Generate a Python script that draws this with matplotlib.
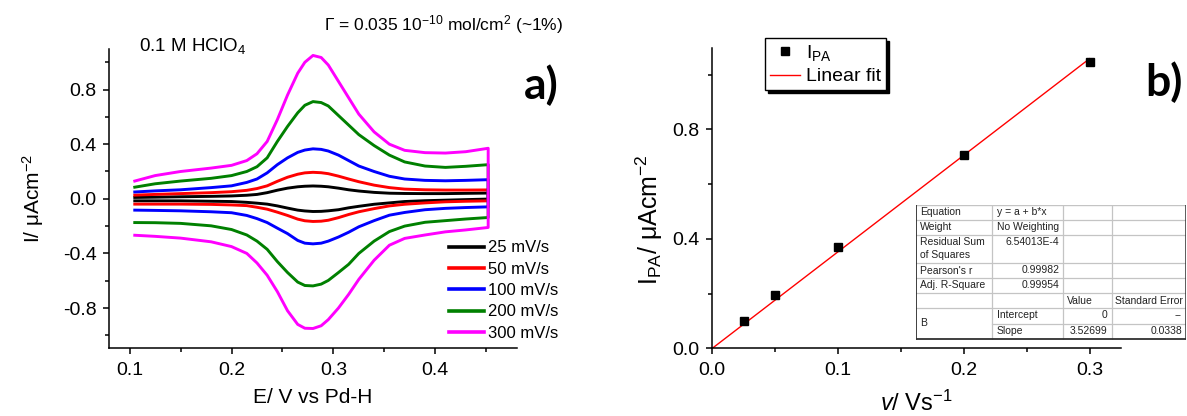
import numpy as np
import matplotlib
matplotlib.use('Agg')
import matplotlib.pyplot as plt
from matplotlib.ticker import MultipleLocator, FormatStrFormatter

plt.rcParams['font.family'] = ['Liberation Sans', 'DejaVu Sans']
plt.rcParams['mathtext.fontset'] = 'custom'
plt.rcParams['mathtext.rm'] = 'Liberation Sans'
plt.rcParams['mathtext.it'] = 'Liberation Sans:italic'
plt.rcParams['mathtext.bf'] = 'Liberation Sans:bold'
plt.rcParams['axes.unicode_minus'] = False

# ---- panel a: cyclic voltammograms ----
E = np.array([0.105, 0.125, 0.15, 0.18, 0.2, 0.215, 0.225, 0.235, 0.245, 0.255, 0.265, 0.272, 0.28,
              0.288, 0.295, 0.305, 0.315, 0.325, 0.34, 0.355, 0.37, 0.39, 0.41, 0.43, 0.452])

scan_labels = ['25 mV/s', '50 mV/s', '100 mV/s', '200 mV/s', '300 mV/s']
scan_colors = ['black', '#ff0000', '#0000ff', '#008000', '#ff00ff']

# anodic (forward) branch
i_an_25 = [0.010, 0.012, 0.015, 0.018, 0.021, 0.026, 0.032, 0.045, 0.063, 0.078, 0.088, 0.092, 0.094,
           0.092, 0.088, 0.078, 0.066, 0.057, 0.047, 0.041, 0.039, 0.038, 0.038, 0.040, 0.042]
i_an_50 = [0.027, 0.032, 0.038, 0.045, 0.052, 0.062, 0.075, 0.095, 0.128, 0.158, 0.180, 0.190, 0.194,
           0.191, 0.184, 0.166, 0.145, 0.125, 0.100, 0.082, 0.071, 0.066, 0.064, 0.064, 0.065]
i_an_100 = [0.050, 0.058, 0.066, 0.082, 0.095, 0.120, 0.145, 0.190, 0.250, 0.300, 0.340, 0.357, 0.366,
            0.362, 0.350, 0.320, 0.280, 0.240, 0.200, 0.165, 0.145, 0.135, 0.132, 0.135, 0.140]
i_an_200 = [0.085, 0.110, 0.130, 0.150, 0.170, 0.200, 0.235, 0.300, 0.420, 0.530, 0.630, 0.685, 0.712,
            0.705, 0.680, 0.610, 0.540, 0.470, 0.390, 0.320, 0.270, 0.240, 0.230, 0.238, 0.250]
i_an_300 = [0.130, 0.170, 0.200, 0.225, 0.245, 0.280, 0.330, 0.420, 0.580, 0.760, 0.920, 1.000, 1.050,
            1.035, 0.980, 0.860, 0.740, 0.620, 0.490, 0.400, 0.355, 0.338, 0.335, 0.345, 0.370]

# cathodic (reverse) branch, same potentials
i_ca_25 = [-0.015, -0.015, -0.015, -0.018, -0.020, -0.026, -0.032, -0.039, -0.052, -0.068, -0.083, -0.089, -0.093,
           -0.092, -0.088, -0.080, -0.066, -0.055, -0.040, -0.030, -0.020, -0.014, -0.010, -0.006, -0.002]
i_ca_50 = [-0.039, -0.039, -0.039, -0.041, -0.045, -0.050, -0.062, -0.076, -0.098, -0.122, -0.149, -0.161, -0.166,
           -0.164, -0.157, -0.138, -0.115, -0.095, -0.072, -0.052, -0.040, -0.030, -0.022, -0.018, -0.015]
i_ca_100 = [-0.083, -0.085, -0.088, -0.095, -0.102, -0.122, -0.145, -0.174, -0.215, -0.255, -0.305, -0.325, -0.330,
            -0.325, -0.310, -0.280, -0.245, -0.205, -0.160, -0.120, -0.100, -0.080, -0.070, -0.064, -0.059]
i_ca_200 = [-0.174, -0.175, -0.180, -0.198, -0.225, -0.265, -0.310, -0.370, -0.460, -0.540, -0.610, -0.635, -0.638,
            -0.625, -0.598, -0.540, -0.480, -0.400, -0.310, -0.240, -0.200, -0.172, -0.160, -0.148, -0.137]
i_ca_300 = [-0.267, -0.275, -0.288, -0.315, -0.350, -0.400, -0.470, -0.560, -0.680, -0.820, -0.920, -0.948, -0.950,
            -0.930, -0.885, -0.800, -0.700, -0.590, -0.450, -0.340, -0.290, -0.265, -0.242, -0.228, -0.210]

anodic = [i_an_25, i_an_50, i_an_100, i_an_200, i_an_300]
cathodic = [i_ca_25, i_ca_50, i_ca_100, i_ca_200, i_ca_300]

# ---- panel b: peak current vs scan rate ----
scan_rate = [0.025, 0.05, 0.1, 0.2, 0.3]
i_pa = [0.100, 0.195, 0.370, 0.706, 1.047]
fit_x = [0.0, 0.3]
fit_slope = 3.52699

tbl_col1 = ['Equation', 'Weight', 'Residual Sum\nof Squares', "Pearson's r", 'Adj. R-Square', '', 'B']
tbl_col2 = ['y = a + b*x', 'No Weighting', '6.54013E-4', '0.99982', '0.99954', '', 'Intercept', 'Slope']
tbl_col3 = ['Value', '0', '3.52699']
tbl_col4 = ['Standard Error', '--', '0.0338']

W, H = 1187, 416
fig = plt.figure(figsize=(W / 100, H / 100), dpi=100)

def style_axes(ax):
    for s in ['top', 'right']:
        ax.spines[s].set_visible(False)
    for s in ['left', 'bottom']:
        ax.spines[s].set_linewidth(1.1)
    ax.tick_params(which='major', direction='out', length=4, width=1.1, labelsize=14, pad=5)
    ax.tick_params(which='minor', direction='out', length=2.7, width=1.1)
    ax.tick_params(axis='x', which='major', pad=6)

axa = fig.add_axes([109.3 / W, 1 - 348.3 / H, 407.4 / W, 299 / H])
style_axes(axa)
for ian, ica, col, lab in zip(anodic, cathodic, scan_colors, scan_labels):
    axa.plot(np.concatenate([E, E[::-1]]), np.concatenate([ian, ica[::-1]]),
             color=col, lw=2.1, label=lab, solid_joinstyle='round')
axa.set_xlim(0.08, 0.48)
axa.set_ylim(-1.095, 1.095)
axa.set_xticks([0.1, 0.2, 0.3, 0.4])
axa.set_yticks([-0.8, -0.4, 0.0, 0.4, 0.8])
axa.xaxis.set_major_formatter(FormatStrFormatter('%.1f'))
axa.yaxis.set_major_formatter(FormatStrFormatter('%.1f'))
axa.xaxis.set_minor_locator(MultipleLocator(0.05))
axa.yaxis.set_minor_locator(MultipleLocator(0.2))
axa.set_xlabel('E/ V vs Pd-H', fontsize=15, labelpad=6)
axa.set_ylabel('I/ μAcm$^{-2}$', fontsize=15, labelpad=12)
leg = axa.legend(loc='center left', bbox_to_anchor=(449 / W, 1 - 290.6 / H),
                 bbox_transform=fig.transFigure, frameon=False, fontsize=12,
                 handlelength=2.1, handletextpad=0.25, labelspacing=0.38,
                 borderpad=0, borderaxespad=0)
for l in leg.get_lines():
    l.set_linewidth(2.6)

fig.text(139 / W, 1 - 51 / H, '0.1 M HClO$_4$', fontsize=13.5, ha='left', va='baseline')
fig.text(563 / W, 1 - 30 / H, 'Γ = 0.035 10$^{-10}$ mol/cm$^2$ (~1%)', fontsize=12.5,
         ha='right', va='baseline')
fig.text(541 / W, 1 - 85 / H, 'a)', fontsize=32, fontweight='bold', family=['Lato', 'DejaVu Sans'],
         ha='center', va='center')

# ---- panel b ----
axb = fig.add_axes([712.3 / W, 1 - 348.3 / H, 408.7 / W, 300 / H])
style_axes(axb)
axb.plot(fit_x, [fit_slope * x for x in fit_x], color='#ff0000', lw=1.0, label='Linear fit', zorder=2)
axb.plot(scan_rate, i_pa, 's', color='black', ms=5.5, label='I$_{\\mathrm{PA}}$', zorder=3)
axb.set_xlim(0, 0.325)
axb.set_ylim(0, 1.096)
axb.set_xticks([0.0, 0.1, 0.2, 0.3])
axb.set_yticks([0.0, 0.4, 0.8])
axb.xaxis.set_major_formatter(FormatStrFormatter('%.1f'))
axb.yaxis.set_major_formatter(FormatStrFormatter('%.1f'))
axb.xaxis.set_minor_locator(MultipleLocator(0.05))
axb.yaxis.set_minor_locator(MultipleLocator(0.2))
axb.set_xlabel('$\\mathit{v}$/ Vs$^{-1}$', fontsize=17, labelpad=8)
axb.set_ylabel('I$_{\\mathrm{PA}}$/ μAcm$^{-2}$', fontsize=18, labelpad=6)
axb.yaxis.set_label_coords(-0.115, 0.43)

h, l = axb.get_legend_handles_labels()
legb = axb.legend([h[1], h[0]], [l[1], l[0]], loc='upper left',
                  bbox_to_anchor=(765 / W, 1 - 38 / H), bbox_transform=fig.transFigure,
                  fontsize=14, handlelength=1.55, handletextpad=0.3, labelspacing=0.25,
                  borderpad=0.25, borderaxespad=0, fancybox=False, framealpha=1,
                  edgecolor='black', shadow={'color': 'black', 'alpha': 1})
legb.get_frame().set_linewidth(1.0)

fig.text(1164 / W, 1 - 82 / H, 'b)', fontsize=32, fontweight='bold', family=['Lato', 'DejaVu Sans'],
         ha='center', va='center')

# ---- fit results table ----
tab = fig.add_axes([916 / W, 1 - 340 / H, 270 / W, 135 / H])
tab.set_xlim(0, 270)
tab.set_ylim(135, 0)
tab.axis('off')
tab.add_patch(plt.Rectangle((0, 0), 270, 134, facecolor='white', edgecolor='none'))
cx = [0, 75.7, 147.3, 195.7, 270]
ry = [0, 15, 30, 58, 73, 88, 103, 118.5, 134]
grid = '#c4c4c4'
for y in ry[1:-1]:
    x0 = cx[1] if y == ry[7] else 0
    tab.plot([x0, 270], [y, y], color=grid, lw=0.9)
tab.plot([0, 270], [0, 0], color=grid, lw=1.0)
for x in cx[1:-1]:
    tab.plot([x, x], [0, 134], color=grid, lw=0.9)
tab.plot([0, 0], [0, 134], color='#303030', lw=1.3)
tab.plot([0, 270], [134, 134], color='#303030', lw=1.3)
tab.plot([269.5, 269.5], [0, 134], color='#303030', lw=1.1)

fs = 7.5
tc = '#222222'
for i, t in enumerate(tbl_col1[:6]):
    tab.text(4, ry[i] + 2.5, t, fontsize=fs, color=tc, va='top', ha='left', linespacing=1.3)
tab.text(4, (ry[6] + ry[8]) / 2, tbl_col1[6], fontsize=fs, color=tc, va='center', ha='left')
for i in range(2):
    tab.text(cx[1] + 5, ry[i] + 2, tbl_col2[i], fontsize=fs, color=tc, va='top', ha='left')
for i in range(2, 5):
    tab.text(cx[2] - 4, ry[i] + 2, tbl_col2[i], fontsize=fs, color=tc, va='top', ha='right')
for i in range(6, 8):
    tab.text(cx[1] + 5, ry[i] + 2, tbl_col2[i], fontsize=fs, color=tc, va='top', ha='left')
tab.text(cx[2] + 4, ry[5] + 2.5, tbl_col3[0], fontsize=fs, color=tc, va='top', ha='left')
tab.text(cx[3] + 3, ry[5] + 2.5, tbl_col4[0], fontsize=fs, color=tc, va='top', ha='left')
for i in range(1, 3):
    tab.text(cx[3] - 4, ry[5 + i] + 2, tbl_col3[i], fontsize=fs, color=tc, va='top', ha='right')
    tab.text(cx[4] - 4, ry[5 + i] + 2, tbl_col4[i], fontsize=fs, color=tc, va='top', ha='right')

fig.savefig('out.png', dpi=100)
